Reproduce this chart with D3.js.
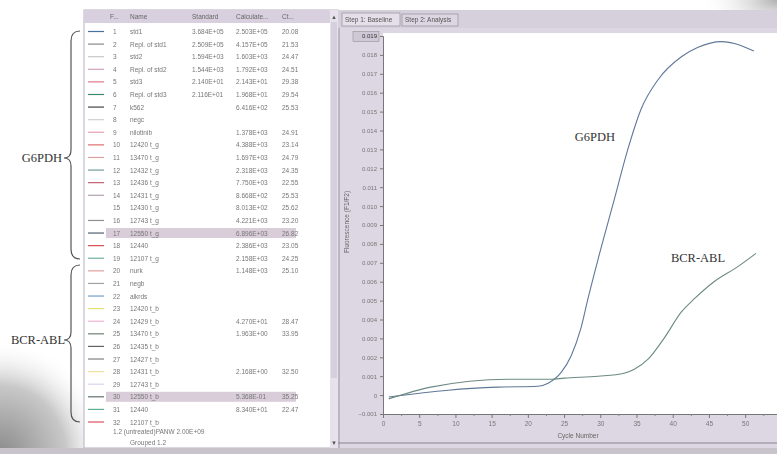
<!DOCTYPE html>
<html><head><meta charset="utf-8">
<script src="https://cdn.jsdelivr.net/npm/d3@7"></script>
<style>html,body{margin:0;padding:0;background:#fff;}svg{display:block;}</style>
</head><body>
<svg id="c" width="777" height="454"></svg>
<script>
// ---- data ----
const rowNums = ["1","2","3","4","5","6","7","8","9","10","11","12","13","14","15","16","17","18","19","20","21","22","23","24","25","26","27","28","29","30","31","32"];
const rowNames = ["std1","Repl. of std1","std2","Repl. of std2","std3","Repl. of std3","k562","negc","nilotinib","12420 t_g","13470 t_g","12432 t_g","12436 t_g","12431 t_g","12430 t_g","12743 t_g","12550 t_g","12440","12107 t_g","nurk","negb","alkrds","12420 t_b","12429 t_b","13470 t_b","12435 t_b","12427 t_b","12431 t_b","12743 t_b","12550 t_b","12440","12107 t_b"];
const rowStandard = ["3.684E+05","2.509E+05","1.594E+03","1.544E+03","2.140E+01","2.116E+01","","","","","","","","","","","","","","","","","","","","","","","","","",""];
const rowCalc = ["2.503E+05","4.157E+05","1.603E+03","1.792E+03","2.143E+01","1.968E+01","6.416E+02","","1.378E+03","4.388E+03","1.697E+03","2.318E+03","7.750E+03","8.668E+02","8.013E+02","4.221E+03","6.896E+03","2.386E+03","2.158E+03","1.148E+03","","","","4.270E+01","1.963E+00","","","2.168E+00","","5.368E-01","8.340E+01",""];
const rowCt = ["20.08","21.53","24.47","24.51","29.38","29.54","25.53","","24.91","23.14","24.79","24.35","22.55","25.53","25.62","23.20","26.82","23.05","24.25","25.10","","","","28.47","33.95","","","32.50","","35.25","22.47",""];
const rowColors = ["#4a6fa5","#8a8a8a","#c8c8c8","#c9a0c0","#e07a8a","#3a8a6a","#444","#d0d0d0","#e8a0b0","#e07070","#e0a0a0","#70a0a0","#c06070","#b0a0b0","#ffffff","#909090","#506070","#d05050","#70b0a0","#e0a0a0","#a0a0a0","#70a0d0","#e8e070","#f0b0d0","#708070","#606060","#808080","#f0e0a0","#e0d0f0","#607070","#60b090","#e05060"];
const highlighted = [17, 30];

const yTicks = [-0.001,0,0.001,0.002,0.003,0.004,0.005,0.006,0.007,0.008,0.009,0.010,0.011,0.012,0.013,0.014,0.015,0.016,0.017,0.018,0.019];
const xTicks = [0,5,10,15,20,25,30,35,40,45,50];

const g6pdhCycle = [0.8,9.0,15.9,21.4,22.8,24.6,26.0,27.3,28.3,29.7,31.9,33.8,35.6,38.0,41.2,43.5,46.7,49.4,51.2];
const g6pdhValue = [-0.0001,0.00026,0.00042,0.00047,0.00063,0.0012,0.0021,0.0035,0.0051,0.0072,0.0103,0.0130,0.0151,0.0167,0.0179,0.0184,0.0187,0.0185,0.0182];
const bcrCycle = [0.8,6.6,17.3,23.2,25.0,29.7,33.3,34.7,36.6,38.8,41.2,43.0,45.7,49.0,51.5];
const bcrValue = [-0.0002,0.00042,0.00084,0.00084,0.0009,0.0010,0.00116,0.00137,0.0019,0.0030,0.0044,0.0051,0.0060,0.0068,0.0075];

// ---- drawing ----
const svg = d3.select("#c");
const defs = svg.append("defs");
const lg = defs.append("radialGradient").attr("id","corner").attr("cx","0").attr("cy","1").attr("r","1");
lg.append("stop").attr("offset","0").attr("stop-color","#8a8a8a");
lg.append("stop").attr("offset","0.6").attr("stop-color","#c8c8c8");
lg.append("stop").attr("offset","1").attr("stop-color","#ffffff").attr("stop-opacity","0");
const rg = defs.append("radialGradient").attr("id","cornerTR").attr("cx","1").attr("cy","0").attr("r","1");
rg.append("stop").attr("offset","0").attr("stop-color","#b0b0b0");
rg.append("stop").attr("offset","1").attr("stop-color","#ffffff").attr("stop-opacity","0");
const blur = defs.append("filter").attr("id","soft");
blur.append("feGaussianBlur").attr("stdDeviation","0.45");

svg.append("rect").attr("width",777).attr("height",454).attr("fill","#fff");
svg.append("rect").attr("x",0).attr("y",340).attr("width",110).attr("height",114).attr("fill","url(#corner)");
svg.append("rect").attr("x",700).attr("y",0).attr("width",77).attr("height",40).attr("fill","url(#cornerTR)");

const root = svg.append("g").attr("filter","url(#soft)");

// Table panel
root.append("rect").attr("x",84).attr("y",10).attr("width",254).attr("height",438).attr("fill","#fff").attr("stroke","#b8b0c0");
root.append("rect").attr("x",84).attr("y",10).attr("width",246).attr("height",13).attr("fill","#d8d0df");
// scrollbar
root.append("rect").attr("x",330).attr("y",10).attr("width",8).attr("height",438).attr("fill","#e6e1ea");
root.append("rect").attr("x",331).attr("y",22).attr("width",6).attr("height",356).attr("fill","#d6cfdd");
root.append("text").attr("x",334).attr("y",19).attr("font-size",6).attr("text-anchor","middle").attr("fill","#555").text("▲");
root.append("text").attr("x",334).attr("y",445).attr("font-size",6).attr("text-anchor","middle").attr("fill","#555").text("▼");

const tf = "Liberation Sans, Arial, sans-serif";
const hdr = [["F...",110],["Name",130],["Standard",192],["Calculate...",236],["Ct...",282]];
hdr.forEach(h=>root.append("text").attr("x",h[1]).attr("y",19).attr("font-family",tf).attr("font-size",6.5).attr("fill","#666").text(h[0]));

const yRow = d3.scaleLinear().domain([1,32]).range([31.5,422]);
highlighted.forEach(n=>root.append("rect").attr("x",106).attr("y",yRow(n)-5).attr("width",190).attr("height",10).attr("fill","#d8cdd8"));
const rows = root.append("g");
rowNums.forEach((n,i)=>{
  const y = yRow(i+1);
  rows.append("line").attr("x1",88).attr("x2",104).attr("y1",y).attr("y2",y).attr("stroke",rowColors[i]).attr("stroke-width",1.2);
  rows.append("text").attr("x",113).attr("y",y+2.5).attr("font-family",tf).attr("font-size",6.5).attr("fill","#777").text(n);
  rows.append("text").attr("x",130).attr("y",y+2.5).attr("font-family",tf).attr("font-size",6.5).attr("fill","#777").text(rowNames[i]);
  rows.append("text").attr("x",192).attr("y",y+2.5).attr("font-family",tf).attr("font-size",6.5).attr("fill","#777").text(rowStandard[i]);
  rows.append("text").attr("x",236).attr("y",y+2.5).attr("font-family",tf).attr("font-size",6.5).attr("fill","#777").text(rowCalc[i]);
  rows.append("text").attr("x",282).attr("y",y+2.5).attr("font-family",tf).attr("font-size",6.5).attr("fill","#777").text(rowCt[i]);
});
root.append("text").attr("x",113).attr("y",434).attr("font-family",tf).attr("font-size",6.5).attr("fill","#777").text("1.2   (untreated)PANW    2.00E+09");
root.append("text").attr("x",130).attr("y",445).attr("font-family",tf).attr("font-size",6.5).attr("fill","#777").text("Grouped 1.2");

// Right panel
root.append("rect").attr("x",338).attr("y",10).attr("width",439).attr("height",438).attr("fill","#ddd7e3");
root.append("line").attr("x1",339).attr("x2",339).attr("y1",10).attr("y2",448).attr("stroke","#9a94a0");
root.append("rect").attr("x",338).attr("y",10).attr("width",439).attr("height",18).attr("fill","#d6d0dc");
root.append("rect").attr("x",342).attr("y",13).attr("width",58).attr("height",13).attr("fill","#e4dfe8").attr("stroke","#8a8490").attr("stroke-width",0.6);
root.append("rect").attr("x",402).attr("y",14).attr("width",56).attr("height",12).attr("fill","#dcd6e2").attr("stroke","#8a8490").attr("stroke-width",0.6);
root.append("text").attr("x",345).attr("y",22).attr("font-family",tf).attr("font-size",6.5).attr("fill","#555").text("Step 1: Baseline");
root.append("text").attr("x",405).attr("y",22).attr("font-family",tf).attr("font-size",6.5).attr("fill","#555").text("Step 2: Analysis");
// bottom status
root.append("line").attr("x1",338).attr("x2",777).attr("y1",443).attr("y2",443).attr("stroke","#8a8490");
svg.append("rect").attr("x",0).attr("y",448).attr("width",777).attr("height",6).attr("fill","#c9c4cc");

const px0 = 383, px1 = 777, py0 = 33, py1 = 414;
const x = d3.scaleLinear().domain([0,54.4]).range([px0,px1]);
const y = d3.scaleLinear().domain([-0.001,0.019]).range([py1,py0+3]);
root.append("rect").attr("x",px0).attr("y",py0).attr("width",px1-px0).attr("height",py1-py0).attr("fill","#fff");

const yAx = root.append("g").attr("transform",`translate(${px0},0)`)
  .call(d3.axisLeft(y).tickValues(yTicks).tickSize(3).tickFormat(d=>d===0?"0":d3.format(".3f")(d)));
yAx.select(".domain").attr("stroke","#777");
yAx.selectAll("line").attr("stroke","#777");
yAx.selectAll("text").attr("font-family",tf).attr("font-size",6).attr("fill","#777");
yAx.select(".tick:last-of-type text").attr("fill","#333");
const lastT = yAx.select(".tick:last-of-type");
lastT.insert("rect","text").attr("x",-30).attr("y",-5).attr("width",26).attr("height",10).attr("fill","#cfc8d6").attr("stroke","#888").attr("stroke-width",0.5);

const xAx = root.append("g").attr("transform",`translate(0,${py1})`)
  .call(d3.axisBottom(x).tickValues(xTicks).tickSize(4).tickFormat(d3.format("d")));
xAx.select(".domain").attr("stroke","#777");
xAx.selectAll("line").attr("stroke","#777");
xAx.selectAll("text").attr("font-family",tf).attr("font-size",6.5).attr("fill","#777");
const minor = root.append("g").attr("transform",`translate(0,${py1})`)
  .call(d3.axisBottom(x).tickValues(xTicks.map(d=>d+2.5).filter(d=>d<54.4)).tickSize(2).tickFormat(""));
minor.select(".domain").remove();
minor.selectAll("line").attr("stroke","#888");

root.append("text").attr("x",578).attr("y",438).attr("text-anchor","middle").attr("font-family",tf).attr("font-size",6.5).attr("fill","#666").text("Cycle Number");
root.append("text").attr("transform","translate(349,222) rotate(-90)").attr("text-anchor","middle").attr("font-family",tf).attr("font-size",6.5).attr("fill","#666").text("Fluorescence (F1/F2)");

const line = d3.line().x(d=>x(d[0])).y(d=>y(d[1])).curve(d3.curveMonotoneX);
root.append("path").datum(g6pdhCycle.map((c,i)=>[c,g6pdhValue[i]])).attr("d",line).attr("fill","none").attr("stroke","#5f7898").attr("stroke-width",1.1);
root.append("path").datum(bcrCycle.map((c,i)=>[c,bcrValue[i]])).attr("d",line).attr("fill","none").attr("stroke","#6c8a84").attr("stroke-width",1.1);

const sf = "Liberation Serif, Times New Roman, serif";
svg.append("text").attr("x",595).attr("y",141).attr("text-anchor","middle").attr("font-family",sf).attr("font-size",12.5).attr("fill","#333").text("G6PDH");
svg.append("text").attr("x",698).attr("y",262).attr("text-anchor","middle").attr("font-family",sf).attr("font-size",12.5).attr("fill","#333").text("BCR-ABL");
svg.append("text").attr("x",42).attr("y",162).attr("text-anchor","middle").attr("font-family",sf).attr("font-size",12.5).attr("fill","#333").text("G6PDH");
svg.append("text").attr("x",38).attr("y",344).attr("text-anchor","middle").attr("font-family",sf).attr("font-size",12.5).attr("fill","#333").text("BCR-ABL");

// braces
function brace(y0,ym,y1){
  const p = d3.path();
  p.moveTo(80,y0);
  p.quadraticCurveTo(71,y0,71,y0+10);
  p.lineTo(71,ym-8);
  p.quadraticCurveTo(71,ym,64,ym);
  p.quadraticCurveTo(71,ym,71,ym+8);
  p.lineTo(71,y1-10);
  p.quadraticCurveTo(71,y1,80,y1);
  return p.toString();
}
svg.append("path").attr("d",brace(31,158,259)).attr("fill","none").attr("stroke","#555").attr("stroke-width",1.2);
svg.append("path").attr("d",brace(265,340,422)).attr("fill","none").attr("stroke","#555").attr("stroke-width",1.2);
</script>
</body></html>
